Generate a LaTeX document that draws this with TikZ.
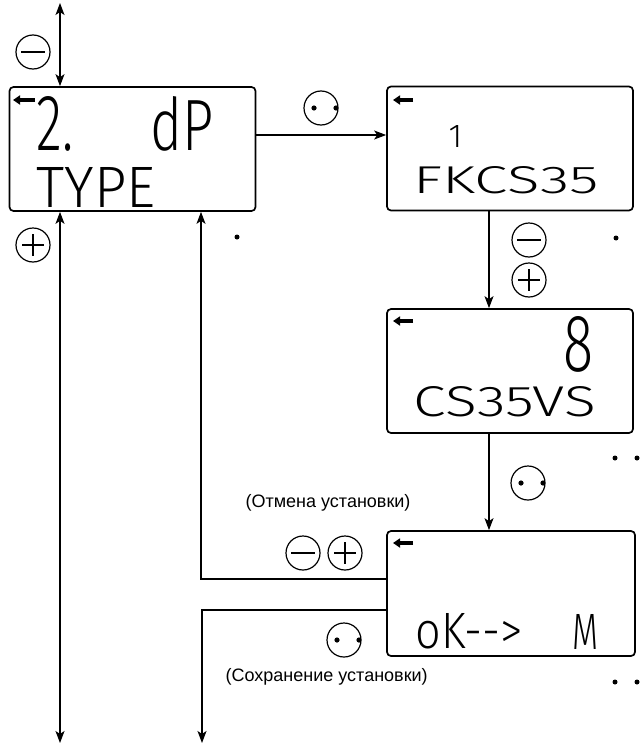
\documentclass[tikz,border=0pt]{standalone}
\usepackage{fontspec}
\setmainfont{Liberation Sans}
\newfontfamily\lcd{Fira Sans Light}
\usetikzlibrary{arrows.meta,calc}
\newcommand{\lcdt}[3]{\resizebox{#1pt}{#2pt}{\lcd #3}}
\begin{document}
\begin{tikzpicture}[x=1pt,y=-1pt,line width=1.3pt,
  arr/.style={-{Stealth[length=12pt,width=9pt,inset=3pt]}},
  darr/.style={{Stealth[length=12pt,width=9pt,inset=3pt]}-{Stealth[length=12pt,width=9pt,inset=3pt]}},
  lcdbox/.style={draw,line width=1.7pt,rounded corners=4pt,minimum width=246pt,minimum height=124pt,inner sep=0pt},
  lcdtxt/.style={inner sep=0pt,anchor=south west},
  icon/.style={line width=4pt,-{Triangle[length=7pt,width=9pt]}},
  btn/.style={draw,circle,line width=1.2pt,minimum size=34pt,inner sep=0pt},
  minusbtn/.style={btn,path picture={\draw[line width=1.2pt] ([xshift=5pt]path picture bounding box.west) -- ([xshift=-5pt]path picture bounding box.east);}},
  plusbtn/.style={btn,path picture={\draw[line width=1.2pt] ([xshift=6pt]path picture bounding box.west) -- ([xshift=-6pt]path picture bounding box.east) ([yshift=-6pt]path picture bounding box.north) -- ([yshift=6pt]path picture bounding box.south);}},
  dotbtn/.style={btn,path picture={\fill ([xshift=-7pt]path picture bounding box.center) circle[radius=2.6pt] ([xshift=15pt]path picture bounding box.center) circle[radius=2.6pt];}},
  lbl/.style={font=\fontsize{18}{20}\selectfont,inner sep=0pt}
]
\useasboundingbox (0,0) rectangle (640,744);

% displays
\node[lcdbox] (box1) at (132.5,149) {};
\node[lcdbox] (box2) at (510,148.5) {};
\node[lcdbox] (box3) at (510,371) {};
\node[lcdbox,minimum width=248pt,minimum height=125pt] (box4) at (511,593.5) {};

% display icons
\draw[icon] (35,100) -- (13,100);
\draw[icon] (413,100) -- (393,100);
\draw[icon] (413,321) -- (393,321);
\draw[icon] (413,543) -- (393,543);

% display texts
\node[lcdtxt] (t1a) at (36,152) {\lcdt{37}{54}{2.}};
\node[lcdtxt] (t1b) at (150,152) {\lcdt{63}{54}{dP}};
\node[lcdtxt] (t1c) at (36,208) {\lcdt{119}{40}{TYPE}};
\node[lcdtxt] (t2a) at (448,148) {\resizebox{!}{22pt}{\lcd 1}};
\node[lcdtxt] (t2b) at (413,195) {\lcdt{185}{27}{FKCS35}};
\node[lcdtxt] (t3a) at (563,373) {\lcdt{30}{55}{8}};
\node[lcdtxt] (t3b) at (413,418) {\lcdt{182}{30}{CS35VS}};
\node[lcdtxt] (t4a) at (415,650) {\lcdt{107}{35}{oK-\kern0pt-\kern0pt>}};
\node[lcdtxt] (t4b) at (572,650) {\lcdt{26}{35}{M}};

% buttons
\node[minusbtn] (b1) at (33,52) {};
\node[plusbtn]  (b2) at (33,245) {};
\node[dotbtn]   (b3) at (321,108) {};
\node[minusbtn] (b4) at (529,240) {};
\node[plusbtn]  (b5) at (529,280) {};
\node[dotbtn]   (b6) at (528,483) {};
\node[minusbtn] (b7) at (303,553) {};
\node[plusbtn]  (b8) at (345,553) {};
\node[dotbtn]   (b9) at (344,640) {};

% labels
\node[lbl] (l1) at (328,503) {(Отмена установки)};
\node[lbl,anchor=west] (l2) at (225,677) {(Сохранение установки)};

% connectors
\coordinate (ctop) at (60,3);
\coordinate (cbot) at (60,743);
\draw[darr] (ctop) -- (ctop |- box1.north);
\draw[darr] (cbot |- box1.south) -- (cbot);
\coordinate (r1) at (0,135);
\draw[arr] (box1.east |- r1) -- (box2.west |- r1);
\coordinate (cx) at (489,0);
\draw[arr] (box2.south -| cx) -- (box3.north -| cx);
\draw[arr] (box3.south -| cx) -- (box4.north -| cx);
\coordinate (u1) at (201,579);
\draw[arr] (box4.west |- u1) -- (u1) -- (u1 |- box1.south);
\coordinate (d1) at (202,610);
\coordinate (d2) at (202,743);
\draw[arr] (box4.west |- d1) -- (d1) -- (d2);

% stray dots
\foreach \p in {(237,237),(616,238),(615,458),(637,458),(615,682),(637,682)}
  \fill \p circle[radius=2.5pt];
\end{tikzpicture}
\end{document}
